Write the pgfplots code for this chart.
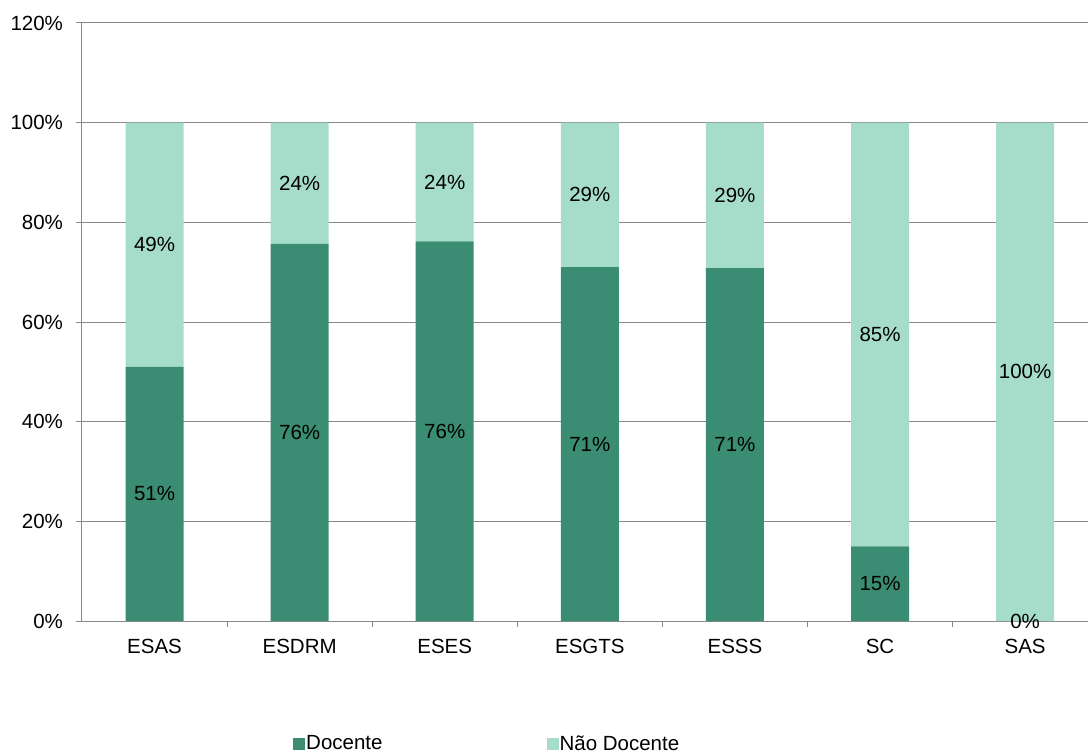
\documentclass[border=0pt]{standalone}
\usepackage{pgfplots}
\pgfplotsset{compat=1.18}
\usepackage{fontspec}
\setmainfont{Liberation Sans}
\definecolor{docente}{HTML}{3A8D72}
\definecolor{naodocente}{HTML}{A6DCCA}
\definecolor{gridgray}{HTML}{888888}
\newcommand{\chartfont}{\fontsize{20.5pt}{24pt}\selectfont}
\pgfplotsset{
  frame/.style={
    scale only axis,
    width=1015.7pt, height=598pt,
    xmin=-0.5, xmax=6.5,
    ymin=0, ymax=120,
  },
}
\begin{document}
\chartfont
\begin{tikzpicture}
% stacked bars
\begin{axis}[
  frame,
  ybar stacked,
  bar width=58pt,
  ytick={0,20,...,120},
  yticklabel={\pgfmathprintnumber[assume math mode=true]{\tick}\%},
  xtick={0,...,6},
  xticklabels={ESAS,ESDRM,ESES,ESGTS,ESSS,SC,SAS},
  minor xtick={0.5,1.5,...,5.5},
  tick align=outside,
  major x tick style={draw=none},
  minor tick length=6pt,
  major tick length=6pt,
  tick style={gridgray, line width=1pt},
  axis lines*=left,
  axis line style={gridgray, line width=1pt},
  ymajorgrids,
  grid style={gridgray, line width=1pt},
  ticklabel style={font=\chartfont},
  xticklabel style={yshift=-5pt},
  yticklabel style={xshift=-6pt},
  legend columns=2,
  legend style={draw=none, fill=none, at={(0.2078,-0.206)}, anchor=west,
    font=\chartfont,
    /tikz/every even column/.append style={column sep=163pt},
    inner sep=0pt, nodes={inner sep=1pt}},
  legend image code/.code={\fill[#1] (0pt,-6pt) rectangle (12pt,6pt);},
]
\addplot[fill=docente, draw=none] coordinates
  {(0,51) (1,75.7) (2,76.2) (3,71.0) (4,70.8) (5,15) (6,0)};
\addplot[fill=naodocente, draw=none] coordinates
  {(0,49) (1,24.3) (2,23.8) (3,29.0) (4,29.2) (5,85) (6,100)};
\legend{Docente,Não Docente}
\end{axis}
% value labels at the middle of each segment
\begin{axis}[
  frame,
  hide axis,
  point meta=explicit,
  nodes near coords={\pgfmathprintnumber[fixed,precision=0,assume math mode=true]{\pgfplotspointmeta}\%},
  every node near coord/.append style={anchor=center, black, font=\chartfont},
]
\addplot[only marks, mark=none] coordinates {
  (0,25.5) [51] (1,37.85) [75.7] (2,38.1) [76.2] (3,35.5) [71.0]
  (4,35.4) [70.8] (5,7.5) [15] (6,0) [0]
  (0,75.5) [49] (1,87.85) [24.3] (2,88.1) [23.8] (3,85.5) [29.0]
  (4,85.4) [29.2] (5,57.5) [85] (6,50) [100]
};
\end{axis}
\pgfresetboundingbox
\path[use as bounding box] (-82pt,-132pt) rectangle (1006pt,621pt);
\end{tikzpicture}
\end{document}
